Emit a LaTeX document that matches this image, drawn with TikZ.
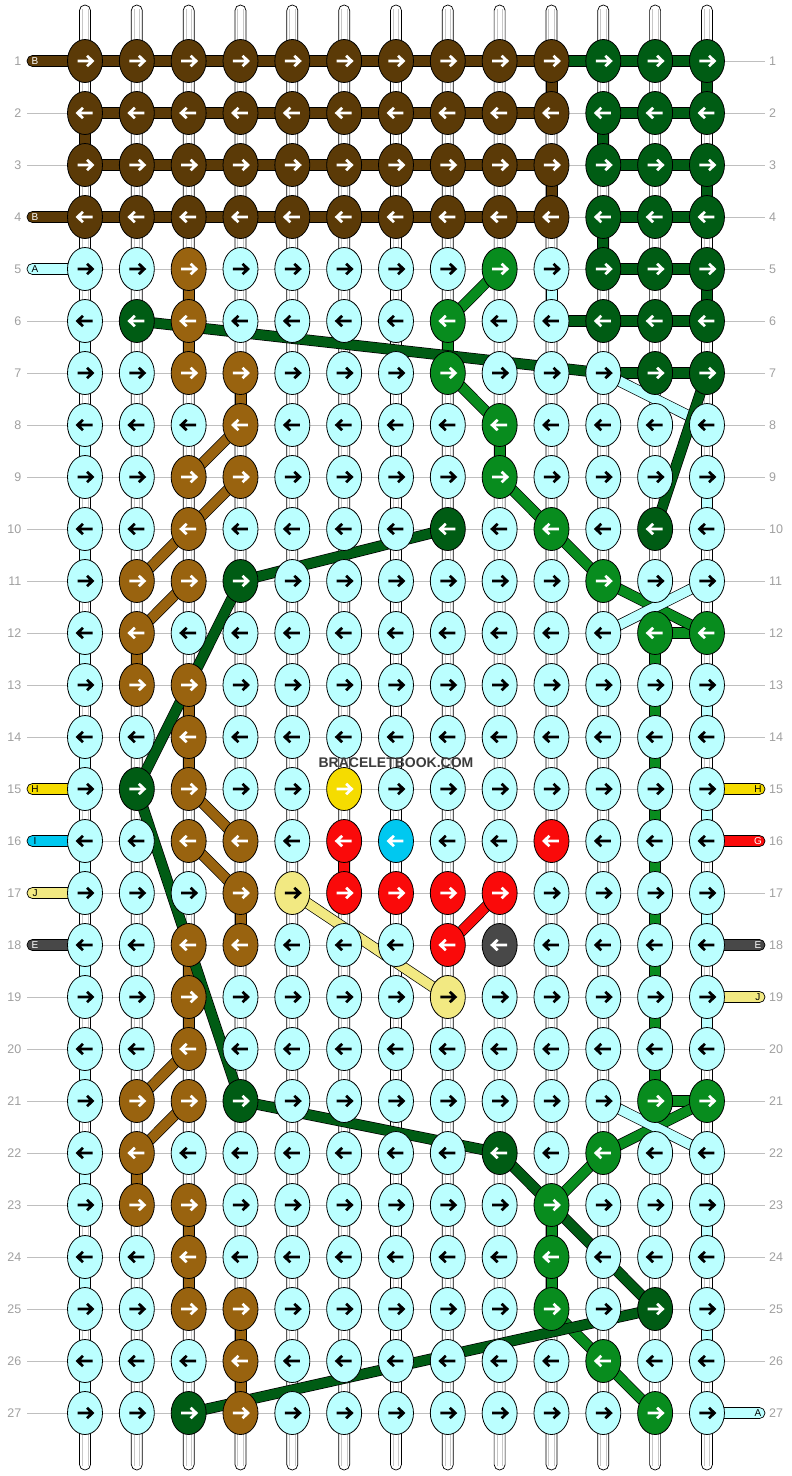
\documentclass[tikz,border=0pt]{standalone}
\usepackage{fontspec}
\setmainfont{Liberation Sans}
\usetikzlibrary{shapes.geometric}

% knot colours
\definecolor{kL}{RGB}{187,255,255}
\definecolor{kD}{RGB}{91,58,7}
\definecolor{kG}{RGB}{0,92,20}
\definecolor{kM}{RGB}{8,140,30}
\definecolor{kO}{RGB}{153,99,15}
\definecolor{kY}{RGB}{245,220,0}
\definecolor{kC}{RGB}{0,200,240}
\definecolor{kP}{RGB}{242,233,130}
\definecolor{kR}{RGB}{250,10,10}
\definecolor{kK}{RGB}{72,72,72}
% arrow colours
\colorlet{aL}{black}
\colorlet{aP}{black}
\colorlet{aD}{white}
\colorlet{aG}{white}
\colorlet{aM}{white}
\colorlet{aO}{white}
\colorlet{aY}{white}
\colorlet{aC}{white}
\colorlet{aR}{white}
\colorlet{aK}{white}
\definecolor{numgray}{RGB}{160,160,160}
\definecolor{logogray}{RGB}{60,60,60}

\tikzstyle{knot} = [ellipse, draw=black, line width=0.8pt, minimum width=35pt, minimum height=43pt, inner sep=0pt]
\tikzstyle{link} = [draw=black, line width=0.7pt]
\tikzstyle{strip} = [draw=black, fill=white, line width=0.7pt, rounded corners=5.4pt]
\tikzstyle{stripline} = [draw=black!22, line width=0.6pt]
\tikzstyle{band} = [draw=black, line width=0.7pt, double distance=9.6pt]
\tikzstyle{guide} = [draw=black!25, line width=0.8pt]
\tikzstyle{glyph} = [line width=2.7pt, line join=miter]
\tikzstyle{num} = [text=numgray, font=\fontsize{12.5}{12.5}\selectfont, inner sep=0pt]
\tikzstyle{tabtext} = [font=\fontsize{10}{10}\selectfont, inner sep=0pt]

\begin{document}
\begin{tikzpicture}[x=1pt, y=-1pt]

    \fill[white] (0,0) rectangle (792,1476);
    \useasboundingbox (0,0) rectangle (792,1476);

    % grid points
    \foreach \rr in {1,...,27}
        \foreach \cc in {1,...,13}
            \coordinate (p-\cc-\rr) at ({85+(\cc-1)*51.83},{61+(\rr-1)*52});

    % row guides
    \foreach \rr in {1,...,27}
        \draw[guide] (p-1-\rr) ++(-58,0) -- ++(738,0);

    % vertical strings
    \foreach \cc in {1,...,13} {
        \pgfmathsetmacro\xx{85+(\cc-1)*51.83}
        \draw[strip] (\xx-5.5,5) rectangle (\xx+5.5,1470);
        \draw[stripline] (\xx-2.8,9) -- (\xx-2.8,1466) (\xx+2.8,9) -- (\xx+2.8,1466);
    }

    % horizontal links
    \foreach \rr/\nn in {5/9,6/9,7/10,8/12,9/12,10/12,11/12,12/10,13/12,14/12,15/12,16/12,17/12,18/12,19/12,20/12,21/10,22/12,23/12,24/12,25/12,26/12,27/12}
        \foreach \cc [evaluate=\cc as \dd using int(\cc+1)] in {1,...,\nn}
            \draw[link, fill=kL] ([yshift=5.5pt]p-\cc-\rr) rectangle ([yshift=-5.5pt]p-\dd-\rr);
    \foreach \rr in {1,...,4} {
        \foreach \cc [evaluate=\cc as \dd using int(\cc+1)] in {1,...,9}
            \draw[link, fill=kD] ([yshift=5.5pt]p-\cc-\rr) rectangle ([yshift=-5.5pt]p-\dd-\rr);
        \foreach \cc [evaluate=\cc as \dd using int(\cc+1)] in {11,12}
            \draw[link, fill=kG] ([yshift=5.5pt]p-\cc-\rr) rectangle ([yshift=-5.5pt]p-\dd-\rr);
    }
    \foreach \rr/\cc/\kk [evaluate=\cc as \dd using int(\cc+1)] in {1/10/G,5/11/G,5/12/G,6/10/G,6/11/G,6/12/G,7/11/G,7/12/G,12/12/M,21/12/M}
        \draw[link, fill=k\kk] ([yshift=5.5pt]p-\cc-\rr) rectangle ([yshift=-5.5pt]p-\dd-\rr);

    % vertical links
    \foreach \cc/\rr/\kk [evaluate=\rr as \ss using int(\rr+1)] in {
        1/2/D,10/1/D,10/3/D,
        13/1/G,13/3/G,13/5/G,11/2/G,11/4/G,
        10/5/L,1/6/L,1/8/L,1/10/L,1/12/L,1/14/L,1/16/L,1/18/L,1/20/L,1/22/L,1/24/L,1/26/L,
        13/9/L,13/13/L,13/15/L,13/17/L,13/19/L,13/23/L,13/25/L,
        3/5/O,3/6/O,4/7/O,2/12/O,3/13/O,3/14/O,4/17/O,3/18/O,3/19/O,2/22/O,3/23/O,3/24/O,4/25/O,4/26/O,
        8/6/M,9/8/M,12/12/M,12/13/M,12/14/M,12/15/M,12/16/M,12/17/M,12/18/M,12/19/M,12/20/M,10/23/M,10/24/M,
        6/16/R}
        \draw[link, fill=k\kk] ([xshift=-5.5pt]p-\cc-\rr) rectangle ([xshift=5.5pt]p-\cc-\ss);

    % string ends, left and right
    \foreach \rr/\kk/\lbl/\tc in {1/D/B/white,4/D/B/white,5/L/A/black,15/Y/H/black,16/C/I/black,17/P/J/black,18/K/E/white} {
        \draw[link, fill=k\kk, rounded corners=5.4pt] (p-1-\rr) ++(0,-5.5) -- ++(-58,0) -- ++(0,11) -- ++(58,0) -- cycle;
        \node[tabtext, text=\tc] (tl-\rr) at ([xshift=-50pt]p-1-\rr) {\lbl};
    }
    \foreach \rr/\kk/\lbl/\tc in {15/Y/H/black,16/R/G/white,18/K/E/white,19/P/J/black,27/L/A/black} {
        \draw[link, fill=k\kk, rounded corners=5.4pt] (p-13-\rr) ++(0,-5.5) -- ++(58,0) -- ++(0,11) -- ++(-58,0) -- cycle;
        \node[tabtext, text=\tc] (tr-\rr) at ([xshift=51pt]p-13-\rr) {\lbl};
    }

    % diagonal strings
    \foreach \aa/\bb in {4-8/3-9,4-9/3-10,3-10/2-11,3-11/2-12,3-15/4-16,3-16/4-17,3-20/2-21,3-21/2-22}
        \draw[band, double=kO] (p-\aa) -- (p-\bb);
    \foreach \aa/\bb in {9-5/8-6,8-7/9-8,9-9/10-10,10-10/11-11,11-11/13-12,13-21/11-22,11-22/10-23,10-25/11-26,11-26/12-27}
        \draw[band, double=kM] (p-\aa) -- (p-\bb);
    \foreach \aa/\bb in {11-7/13-8,13-11/11-12,11-21/13-22}
        \draw[band, double=kL] (p-\aa) -- (p-\bb);
    \foreach \aa/\bb in {2-6/11-7,13-7/12-10,4-11/8-10,4-11/2-15,2-15/4-21,4-21/9-22,9-22/12-25,12-25/3-27}
        \draw[band, double=kG] (p-\aa) -- (p-\bb);
    \draw[band, double=kR] (p-9-17) -- (p-8-18);
    \draw[band, double=kP] (p-5-17) -- (p-8-19);

    % knots
    \foreach \rr/\lst in {
        1/{D,D,D,D,D,D,D,D,D,D,G,G,G},
        2/{D,D,D,D,D,D,D,D,D,D,G,G,G},
        3/{D,D,D,D,D,D,D,D,D,D,G,G,G},
        4/{D,D,D,D,D,D,D,D,D,D,G,G,G},
        5/{L,L,O,L,L,L,L,L,M,L,G,G,G},
        6/{L,G,O,L,L,L,L,M,L,L,G,G,G},
        7/{L,L,O,O,L,L,L,M,L,L,L,G,G},
        8/{L,L,L,O,L,L,L,L,M,L,L,L,L},
        9/{L,L,O,O,L,L,L,L,M,L,L,L,L},
        10/{L,L,O,L,L,L,L,G,L,M,L,G,L},
        11/{L,O,O,G,L,L,L,L,L,L,M,L,L},
        12/{L,O,L,L,L,L,L,L,L,L,L,M,M},
        13/{L,O,O,L,L,L,L,L,L,L,L,L,L},
        14/{L,L,O,L,L,L,L,L,L,L,L,L,L},
        15/{L,G,O,L,L,Y,L,L,L,L,L,L,L},
        16/{L,L,O,O,L,R,C,L,L,R,L,L,L},
        17/{L,L,L,O,P,R,R,R,R,L,L,L,L},
        18/{L,L,O,O,L,L,L,R,K,L,L,L,L},
        19/{L,L,O,L,L,L,L,P,L,L,L,L,L},
        20/{L,L,O,L,L,L,L,L,L,L,L,L,L},
        21/{L,O,O,G,L,L,L,L,L,L,L,M,M},
        22/{L,O,L,L,L,L,L,L,G,L,M,L,L},
        23/{L,O,O,L,L,L,L,L,L,M,L,L,L},
        24/{L,L,O,L,L,L,L,L,L,M,L,L,L},
        25/{L,L,O,O,L,L,L,L,L,M,L,G,L},
        26/{L,L,L,O,L,L,L,L,L,L,M,L,L},
        27/{L,L,G,O,L,L,L,L,L,L,L,M,L}} {
        \pgfmathtruncatemacro\dir{2*mod(\rr,2)-1}
        \foreach \kk [count=\cc] in \lst {
            \node[knot, fill=k\kk] (k-\cc-\rr) at (p-\cc-\rr) {};
            \draw[glyph, draw=a\kk, shift={(p-\cc-\rr)}, xscale=\dir] (-7.5,0) -- (7,0) (2,-5.2) -- (7.5,0) -- (2,5.2);
        }
    }

    % row numbers
    \foreach \rr in {1,...,27} {
        \node[num, anchor=east] (nl-\rr) at ([xshift=-63.5pt]p-1-\rr) {\rr};
        \node[num, anchor=west] (nr-\rr) at ([xshift=62pt]p-13-\rr) {\rr};
    }

    \node[text=logogray, font=\bfseries\fontsize{14}{14}\selectfont, inner sep=0pt] (logo) at (396,763) {BRACELETBOOK.COM};

\end{tikzpicture}
\end{document}
